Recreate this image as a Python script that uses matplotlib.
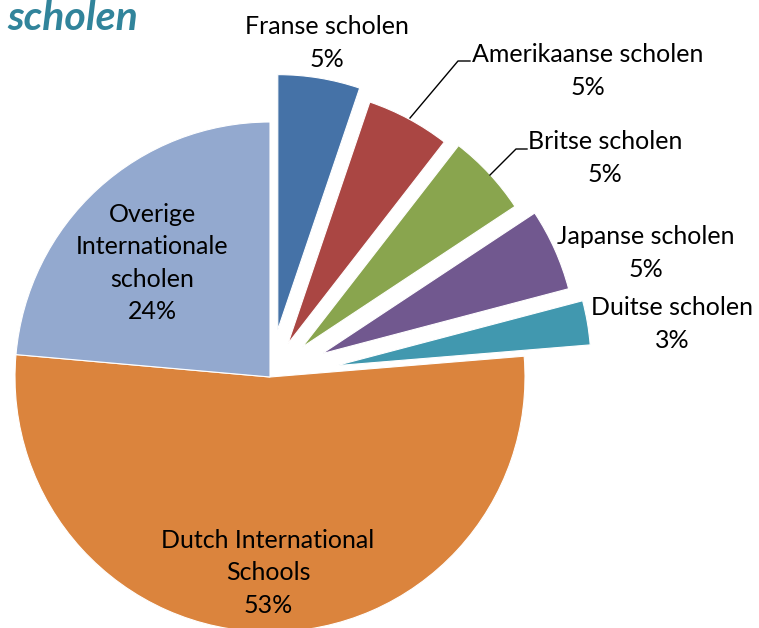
import matplotlib.pyplot as plt

# data (percent shares)
labels = ["Franse scholen", "Amerikaanse scholen", "Britse scholen",
          "Japanse scholen", "Duitse scholen", "Dutch International\nSchools",
          "Overige\nInternationale\nscholen"]
values = [5.2, 5.3, 5.2, 5.2, 2.8, 52.7, 23.6]
colors = ["#4572A7", "#AA4643", "#89A54E", "#71588F", "#4198AF", "#DB843D", "#93A9CF"]
explode = [48, 38, 44, 57, 67, 0, 0]  # in pixels

W, H = 759, 628
cx, cy, r = 270, 377, 255

fig = plt.figure(figsize=(W / 100, H / 100), dpi=100)
ax = fig.add_axes([0, 0, 1, 1])

# y axis is inverted, so counterclock in data means clockwise on screen
ax.pie(values, colors=colors, explode=explode, startangle=-90, counterclock=True,
       center=(cx, cy), radius=r,
       wedgeprops=dict(edgecolor="white", linewidth=0.8))
ax.set_xlim(0, W)
ax.set_ylim(H, 0)
ax.set_aspect("equal")
ax.axis("off")

font = "Lato"
fs = 18
pos = [(327, 43), (588, 71), (605, 158), (646, 253), (672, 324), (268, 573), (152, 263)]
for lab, v, (x, y) in zip(labels, values, pos):
    ax.text(x, y, f"{lab}\n{v:.0f}%", ha="center", va="center", fontsize=fs,
            family=font, linespacing=1.5, color="black")

# leader lines
ax.plot([410, 458, 470], [118, 61, 61], color="black", lw=1)
ax.plot([490, 516, 527], [175, 149, 149], color="black", lw=1)

ax.text(138, 19, "scholen", ha="right", va="center", fontsize=29.5, family=font,
        weight="bold", style="italic", color="#31849B")

fig.savefig("out.png", dpi=100)
